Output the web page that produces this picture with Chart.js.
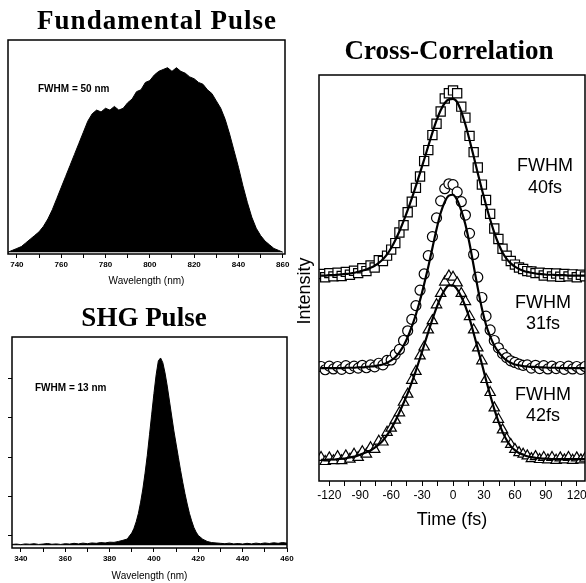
<!DOCTYPE html>
<html><head><meta charset="utf-8">
<script src="https://cdn.jsdelivr.net/npm/chart.js@4/dist/chart.umd.min.js"></script>
<style>
html,body{margin:0;padding:0;background:#fff;width:586px;height:583px;overflow:hidden;}
#wrap{position:relative;width:586px;height:583px;}
canvas{position:absolute;}
.ttl{position:absolute;font-family:'Liberation Serif',serif;font-weight:bold;font-size:27px;line-height:27px;white-space:nowrap;color:#000;transform:translateX(-50%);}
</style></head><body>
<div id="wrap">
<canvas id="cA" width="296" height="292" style="left:0;top:0"></canvas>
<canvas id="cB" width="296" height="291" style="left:0;top:292px"></canvas>
<canvas id="cC" width="296" height="583" style="left:290px;top:0"></canvas>
<div class="ttl" style="left:157px;top:7px;letter-spacing:1px">Fundamental Pulse</div>
<div class="ttl" style="left:144px;top:304px">SHG Pulse</div>
<div class="ttl" style="left:449px;top:37px">Cross-Correlation</div>
</div>
<script>
// ---------- Fundamental pulse spectrum ----------
const fundWavelength = [736,738,740,742,744,746,748,750,752,754,756,758,760,762,764,766,768,770,772,774,776,778,780,782,784,786,788,790,792,794,796,798,800,802,804,806,808,810,812,814,816,818,820,822,824,826,828,830,832,834,836,838,840,842,844,846,848,850,852,854,856,858,860];
const fundIntensity = [0.00,0.01,0.02,0.03,0.05,0.07,0.09,0.11,0.14,0.18,0.23,0.29,0.35,0.41,0.47,0.53,0.59,0.65,0.71,0.75,0.77,0.76,0.78,0.77,0.79,0.77,0.78,0.81,0.83,0.87,0.88,0.92,0.93,0.96,0.98,0.99,1.00,0.98,1.00,0.98,0.97,0.95,0.94,0.92,0.91,0.88,0.86,0.82,0.78,0.72,0.64,0.55,0.46,0.36,0.27,0.19,0.13,0.09,0.06,0.04,0.02,0.01,0.00];
const fundMajorTicks = [740,760,780,800,820,840,860];
const fundMinorTicks = [750,770,790,810,830,850];
const fundLabel = 'FWHM = 50 nm';

// ---------- SHG pulse spectrum ----------
const shgWavelength = [336,338,340,342,344,346,348,350,352,354,356,358,360,362,364,366,368,370,372,374,376,378,380,382,384,386,388,389,390,391,392,393,394,395,396,397,398,399,400,401,402,403,404,405,406,407,408,409,410,411,412,413,414,415,416,417,418,419,420,422,424,426,428,430,432,434,436,438,440,442,444,446,448,450,452,454,456,458,460];
const shgIntensity = [0.004,0.006,0.003,0.007,0.005,0.008,0.004,0.006,0.009,0.005,0.007,0.004,0.008,0.006,0.010,0.007,0.011,0.008,0.012,0.010,0.014,0.012,0.016,0.015,0.020,0.026,0.033,0.050,0.065,0.090,0.125,0.170,0.230,0.300,0.385,0.480,0.590,0.700,0.810,0.910,0.985,1.000,0.975,0.920,0.850,0.770,0.690,0.610,0.540,0.470,0.400,0.335,0.275,0.220,0.170,0.130,0.095,0.070,0.052,0.032,0.020,0.014,0.012,0.010,0.008,0.011,0.007,0.009,0.006,0.010,0.007,0.011,0.008,0.012,0.009,0.013,0.010,0.014,0.011];
const shgMajorTicks = [340,360,380,400,420,440,460];
const shgMinorTicks = [350,370,390,410,430,450];
const shgYTicks = [0.05,0.26,0.47,0.68,0.89];
const shgLabel = 'FWHM = 13 nm';

// ---------- Cross-correlation traces ----------
const timeFs = [-128,-124,-120,-116,-112,-108,-104,-100,-96,-92,-88,-84,-80,-76,-72,-68,-64,-60,-56,-52,-48,-44,-40,-36,-32,-28,-24,-20,-16,-12,-8,-4,0,4,8,12,16,20,24,28,32,36,40,44,48,52,56,60,64,68,72,76,80,84,88,92,96,100,104,108,112,116,120,124,128];
const squaresData = [5.10,5.02,5.12,5.04,5.13,5.05,5.15,5.08,5.18,5.12,5.24,5.17,
 5.31,5.26,5.44,5.42,5.55,5.70,5.86,6.12,6.30,6.62,6.88,7.22,7.50,7.88,8.15,8.52,8.80,9.10,9.42,9.55,
 9.62,
 9.55,9.22,8.95,8.50,8.10,7.72,7.30,6.92,6.58,6.22,5.96,5.72,5.55,5.42,5.33,5.26,5.22,5.17,5.16,5.12,5.13,
 5.06,5.12,5.04,5.11,5.03,5.10,5.04,5.09,5.02,5.08,5.04];
const squaresFit = [5.06,5.06,5.07,5.07,5.08,5.09,5.10,5.11,5.13,5.15,5.18,5.21,
 5.25,5.30,5.37,5.46,5.58,5.74,5.93,6.15,6.40,6.67,6.96,7.27,7.59,7.92,8.25,8.58,8.88,9.13,9.31,9.40,
 9.41,
 9.33,9.10,8.78,8.40,8.00,7.58,7.18,6.80,6.44,6.12,5.85,5.63,5.47,5.36,5.28,5.22,5.18,5.15,5.13,5.11,5.10,
 5.09,5.08,5.08,5.07,5.07,5.07,5.06,5.06,5.06,5.06,5.06];
const circlesData = [2.82,2.74,2.83,2.76,2.82,2.75,2.84,2.77,2.83,2.78,2.85,2.79,
 2.86,2.81,2.90,2.86,2.97,2.98,3.12,3.24,3.46,3.70,3.98,4.32,4.70,5.10,5.55,6.02,6.48,6.90,7.20,7.32,
 7.30,
 7.12,6.88,6.55,6.10,5.58,5.02,4.52,4.06,3.72,3.46,3.28,3.14,3.04,2.96,2.92,2.88,2.85,2.86,2.78,2.85,2.77,
 2.84,2.76,2.83,2.77,2.82,2.75,2.83,2.76,2.82,2.75,2.82];
const circlesFit = [2.78,2.78,2.78,2.78,2.78,2.78,2.79,2.79,2.79,2.80,2.80,2.81,
 2.82,2.83,2.85,2.87,2.91,2.97,3.05,3.17,3.33,3.54,3.80,4.10,4.45,4.85,5.28,5.74,6.20,6.60,6.88,7.03,
 7.05,
 6.92,6.66,6.32,5.85,5.30,4.75,4.25,3.85,3.56,3.34,3.18,3.06,2.97,2.91,2.87,2.85,2.83,2.82,2.81,2.81,2.80,
 2.80,2.79,2.79,2.79,2.78,2.78,2.78,2.78,2.78,2.78,2.78];
const trianglesData = [0.58,0.48,0.57,0.50,0.60,0.50,0.62,0.54,0.66,0.58,0.72,0.66,
 0.82,0.78,0.98,0.96,1.20,1.30,1.50,1.68,1.94,2.14,2.48,2.70,3.08,3.30,3.72,3.95,4.34,4.62,4.90,5.05,
 5.02,
 4.88,4.62,4.42,4.05,3.72,3.28,2.96,2.50,2.18,1.80,1.52,1.26,1.04,0.90,0.78,0.70,0.66,0.62,0.55,0.60,0.53,
 0.58,0.52,0.58,0.51,0.57,0.52,0.58,0.51,0.57,0.52,0.56];
const trianglesFit = [0.52,0.52,0.53,0.53,0.54,0.55,0.56,0.58,0.60,0.63,0.67,0.71,
 0.75,0.82,0.90,1.00,1.13,1.29,1.48,1.69,1.92,2.16,2.43,2.72,3.03,3.35,3.67,3.98,4.27,4.52,4.71,4.82,
 4.82,
 4.72,4.54,4.30,4.00,3.64,3.26,2.88,2.49,2.12,1.77,1.47,1.21,1.01,0.86,0.76,0.69,0.65,0.61,0.59,0.57,0.56,
 0.55,0.55,0.54,0.54,0.54,0.54,0.54,0.54,0.54,0.54,0.54];
const timeMajorTicks = [-120,-90,-60,-30,0,30,60,90,120];
const timeMinorTicks = [-105,-75,-45,-15,15,45,75,105];
const fwhmTexts = [['FWHM','40fs'],['FWHM','31fs'],['FWHM','42fs']];

// ---------- helpers ----------
const pts = (xs, ys) => xs.map((x, i) => ({x: x, y: ys[i]}));
const boxPlugin = {id:'box', afterDatasetsDraw(chart, args, opts){
  const {ctx, chartArea:a} = chart; ctx.save(); ctx.strokeStyle='#000'; ctx.lineWidth=opts.width||1.5;
  ctx.strokeRect(a.left, a.top, a.right-a.left, a.bottom-a.top); ctx.restore(); }};
const notesPlugin = {id:'notes', afterDraw(chart, args, opts){
  const ctx = chart.ctx;
  (opts.items||[]).forEach(it => { ctx.save(); ctx.font = it.font; ctx.fillStyle='#000';
    ctx.textAlign = it.align||'center'; ctx.textBaseline='middle'; ctx.translate(it.x, it.y);
    if (it.rot) ctx.rotate(it.rot); ctx.fillText(it.text, 0, 0); ctx.restore(); }); }};

function xScale(min, max, majors, minors, h, tickFont, title, titleFont, titlePad, tickLen){
  const all = majors.concat(minors).sort((a,b)=>a-b);
  return {type:'linear', min:min, max:max,
    afterBuildTicks: s => { s.ticks = all.map(v => ({value:v})); },
    afterFit: s => { s.height = h; s.paddingLeft = 0; s.paddingRight = 0; },
    ticks:{autoSkip:false, maxRotation:0, color:'#000', font:tickFont, padding:2,
      callback: v => majors.includes(v) ? String(v) : ''},
    grid:{drawOnChartArea:false, drawTicks:true, tickLength:tickLen, color:'#000', lineWidth:1},
    border:{display:false},
    title:{display:true, text:title, color:'#000', font:titleFont, padding:{top:0, bottom:titlePad}}};
}
const common = {responsive:false, animation:false, devicePixelRatio:1};

// ---------- Chart A ----------
new Chart(document.getElementById('cA'), {
  type:'line',
  data:{datasets:[{data:pts(fundWavelength, fundIntensity), borderColor:'#000', borderWidth:1,
    backgroundColor:'#000', fill:'origin', pointRadius:0}]},
  options:Object.assign({}, common, {
    layout:{autoPadding:false, padding:{left:8, right:11, top:40, bottom:0}},
    scales:{
      x: xScale(736, 861, fundMajorTicks, fundMinorTicks, 38,
        {family:'Liberation Sans', size:8, weight:'bold'}, 'Wavelength (nm)',
        {family:'Liberation Sans', size:10}, 5, 4),
      y: {display:false, min:-0.01, max:1.15}
    },
    plugins:{legend:{display:false}, tooltip:{enabled:false},
      box:{width:1.5},
      notes:{items:[{text:fundLabel, x:38, y:89, align:'left', font:'bold 10px "Liberation Sans"'}]}}
  }),
  plugins:[boxPlugin, notesPlugin]
});

// ---------- Chart B ----------
new Chart(document.getElementById('cB'), {
  type:'line',
  data:{datasets:[{data:pts(shgWavelength, shgIntensity), borderColor:'#000', borderWidth:1,
    backgroundColor:'#000', fill:'origin', pointRadius:0}]},
  options:Object.assign({}, common, {
    layout:{autoPadding:false, padding:{left:7, right:9, top:45, bottom:1}},
    scales:{
      x: xScale(336, 460, shgMajorTicks, shgMinorTicks, 34,
        {family:'Liberation Sans', size:8, weight:'bold'}, 'Wavelength (nm)',
        {family:'Liberation Sans', size:10}, 0, 4),
      y: {type:'linear', min:-0.015, max:1.112,
        afterBuildTicks: s => { s.ticks = shgYTicks.map(v => ({value:v})); },
        afterFit: s => { s.width = 5; },
        ticks:{display:false},
        grid:{drawOnChartArea:false, drawTicks:true, tickLength:4, color:'#000'},
        border:{display:false}}
    },
    plugins:{legend:{display:false}, tooltip:{enabled:false},
      box:{width:1.5},
      notes:{items:[{text:shgLabel, x:35, y:96, align:'left', font:'bold 10px "Liberation Sans"'}]}}
  }),
  plugins:[boxPlugin, notesPlugin]
});

// ---------- Chart C ----------
const symBase = {showLine:false, borderColor:'#000', backgroundColor:'#fff', pointBorderWidth:1.2, order:1};
const fitBase = {showLine:true, borderColor:'#000', borderWidth:2.2, pointRadius:0, cubicInterpolationMode:'monotone', fill:false, order:0};
const lblFont = '18px "Liberation Sans"';
new Chart(document.getElementById('cC'), {
  type:'line',
  data:{datasets:[
    Object.assign({}, fitBase, {data:pts(timeFs, squaresFit)}),
    Object.assign({}, fitBase, {data:pts(timeFs, circlesFit)}),
    Object.assign({}, fitBase, {data:pts(timeFs, trianglesFit)}),
    Object.assign({}, symBase, {data:pts(timeFs, squaresData), pointStyle:'rect', pointRadius:6.5}),
    Object.assign({}, symBase, {data:pts(timeFs, circlesData), pointStyle:'circle', pointRadius:5}),
    Object.assign({}, symBase, {data:pts(timeFs, trianglesData), pointStyle:'triangle', pointRadius:6})
  ]},
  options:Object.assign({}, common, {
    layout:{autoPadding:false, padding:{left:29, right:1, top:75, bottom:42}},
    scales:{
      x: xScale(-130, 128, timeMajorTicks, timeMinorTicks, 60,
        {family:'Liberation Sans', size:12}, 'Time (fs)',
        {family:'Liberation Sans', size:18}, 10, 5),
      y: {display:false, min:0, max:10}
    },
    plugins:{legend:{display:false}, tooltip:{enabled:false},
      box:{width:1.5},
      notes:{items:[
        {text:'Intensity', x:15, y:291, rot:-Math.PI/2, font:lblFont},
        {text:fwhmTexts[0][0], x:255, y:166, font:lblFont},
        {text:fwhmTexts[0][1], x:255, y:188, font:lblFont},
        {text:fwhmTexts[1][0], x:253, y:303, font:lblFont},
        {text:fwhmTexts[1][1], x:253, y:324, font:lblFont},
        {text:fwhmTexts[2][0], x:253, y:395, font:lblFont},
        {text:fwhmTexts[2][1], x:253, y:416, font:lblFont}
      ]}}
  }),
  plugins:[boxPlugin, notesPlugin]
});
</script>
</body></html>
